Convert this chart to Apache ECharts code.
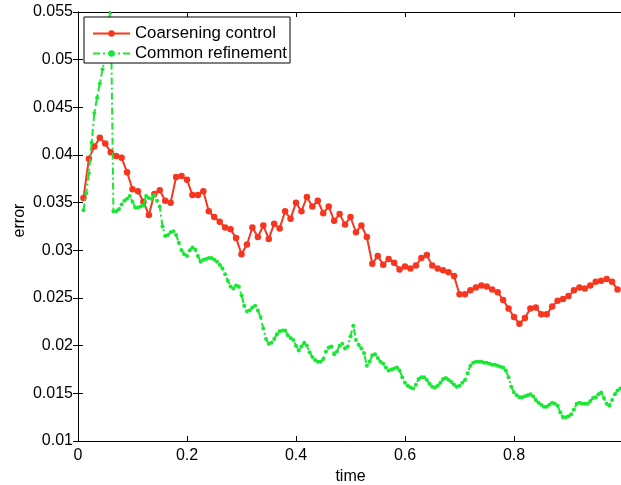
<!DOCTYPE html>
<html>
<head>
<meta charset="utf-8">
<script src="https://cdn.jsdelivr.net/npm/echarts@6/dist/echarts.min.js"></script>
<style>
html, body { margin: 0; padding: 0; background: #fff; }
#chart { width: 621px; height: 485px; }
</style>
</head>
<body>
<div id="chart"></div>
<script>
// sample times (uniform time steps of the two runs)
const coarseStart = 0.01
const coarseStep = 0.01
const commonStart = 0.01
const commonStep = 0.005

// error of the coarsening control run, t = 0.01 .. 0.99
const coarseError = [
  0.0355, 0.0396, 0.0409, 0.0418, 0.0412, 0.0403, 0.0399, 0.0397, 0.0382, 0.0364,
  0.0362, 0.0351, 0.0337, 0.0359, 0.0363, 0.0352, 0.0350, 0.0377, 0.0378, 0.0374,
  0.0358, 0.0358, 0.0362, 0.0341, 0.0335, 0.0330, 0.0324, 0.0322, 0.0313, 0.0296,
  0.0306, 0.0324, 0.0314, 0.0326, 0.0312, 0.0328, 0.0323, 0.0341, 0.0333, 0.0350,
  0.0341, 0.0356, 0.0346, 0.0352, 0.0339, 0.0346, 0.0331, 0.0338, 0.0327, 0.0335,
  0.0319, 0.0326, 0.0314, 0.0286, 0.0294, 0.0285, 0.0291, 0.0287, 0.0280, 0.0283,
  0.0281, 0.0284, 0.0292, 0.0295, 0.0284, 0.0281, 0.0279, 0.0277, 0.0273, 0.0254,
  0.0254, 0.0258, 0.0261, 0.0263, 0.0262, 0.0259, 0.0256, 0.0248, 0.0239, 0.0230,
  0.0223, 0.0229, 0.0239, 0.0240, 0.0233, 0.0233, 0.0241, 0.0247, 0.0249, 0.0252,
  0.0258, 0.0261, 0.0260, 0.0263, 0.0267, 0.0268, 0.0270, 0.0267, 0.0259
]

// error of the common refinement run, t = 0.01 .. 0.995
const commonError = [
  0.0342, 0.0360, 0.0381, 0.0413, 0.0444, 0.0460, 0.0475, 0.0490, 0.0502, 0.0525,
  0.0560, 0.0341, 0.0341, 0.0343, 0.0348, 0.0352, 0.0354, 0.0357, 0.0351, 0.0345,
  0.0345, 0.0346, 0.0347, 0.0357, 0.0355, 0.0354, 0.0358, 0.0352,
  0.0346, 0.0325, 0.0315, 0.0316, 0.0319, 0.0320, 0.0316, 0.0308, 0.0300, 0.0296,
  0.0294, 0.0300, 0.0303, 0.0301, 0.0294, 0.0288, 0.0290, 0.0291, 0.0292, 0.0292,
  0.0290, 0.0288, 0.0285, 0.0281, 0.0275, 0.0268, 0.0262, 0.0260, 0.0263, 0.0262,
  0.0253, 0.0242, 0.0236, 0.0237, 0.0240, 0.0242, 0.0237, 0.0230, 0.0218, 0.0207,
  0.0202, 0.0203, 0.0207, 0.0212, 0.0215, 0.0216, 0.0216, 0.0211, 0.0208, 0.0206,
  0.0200, 0.0195, 0.0199, 0.0203, 0.0200, 0.0193, 0.0188, 0.0185, 0.0183, 0.0183,
  0.0186, 0.0194, 0.0198, 0.0199, 0.0191, 0.0194, 0.0200, 0.0202, 0.0197, 0.0199,
  0.0210, 0.0221, 0.0206, 0.0201, 0.0197, 0.0192, 0.0179, 0.0183, 0.0190, 0.0191,
  0.0187, 0.0183, 0.0181, 0.0177, 0.0174, 0.0175, 0.0176, 0.0177, 0.0174, 0.0167,
  0.0161, 0.0158, 0.0156, 0.0155, 0.0159, 0.0165, 0.0167, 0.0167, 0.0164, 0.0160,
  0.0157, 0.0156, 0.0158, 0.0161, 0.0165, 0.0166, 0.0164, 0.0162, 0.0159, 0.0157,
  0.0158, 0.0161, 0.0164, 0.0171, 0.0179, 0.0182, 0.0183, 0.0183, 0.0183, 0.0182,
  0.0182, 0.0181, 0.0180, 0.0180, 0.0179, 0.0178, 0.0177, 0.0174, 0.0167, 0.0157,
  0.0151, 0.0148, 0.0146, 0.0146, 0.0147, 0.0148, 0.0149, 0.0147, 0.0143, 0.0140,
  0.0138, 0.0136, 0.0136, 0.0138, 0.0140, 0.0139, 0.0137, 0.0130, 0.0125, 0.0125,
  0.0126, 0.0128, 0.0133, 0.0139, 0.0140, 0.0139, 0.0139, 0.0139, 0.0142, 0.0145,
  0.0146, 0.0149, 0.0151, 0.0145, 0.0139, 0.0137, 0.0143, 0.0149, 0.0153, 0.0155
]

const seriesNames = ['Coarsening control', 'Common refinement']
const xTicks = { min: 0, max: 1, interval: 0.2 }
const yTicks = { min: 0.01, max: 0.055, interval: 0.005 }

function pairs (start, step, values) {
  return values.map((v, i) => [+(start + i * step).toFixed(3), v])
}

const font = 'Liberation Sans, Arial, Helvetica, sans-serif'
const axisLine = { show: true, lineStyle: { color: '#000', width: 1 } }
const axisTick = { show: true, inside: true, length: 5, lineStyle: { color: '#000', width: 1 } }

const chart = echarts.init(document.getElementById('chart'), null, { renderer: 'canvas' })
chart.setOption({
  animation: false,
  backgroundColor: '#fff',
  textStyle: { fontFamily: font },
  grid: { left: 78, top: 12, right: -2, bottom: 44, show: false, containLabel: false, outerBoundsMode: 'none' },
  legend: {
    orient: 'vertical',
    left: 84,
    top: 17,
    padding: [8, 3, 1, 8],
    itemGap: 3,
    itemWidth: 37,
    itemHeight: 8,
    backgroundColor: '#fff',
    borderColor: '#000',
    borderWidth: 1,
    borderRadius: 0,
    textStyle: { color: '#000', fontSize: 16.8, fontFamily: font },
    data: seriesNames
  },
  xAxis: [{
    type: 'value',
    min: xTicks.min,
    max: xTicks.max,
    interval: xTicks.interval,
    name: 'time',
    nameLocation: 'middle',
    nameGap: 27,
    nameTextStyle: { color: '#000', fontSize: 16, fontFamily: font },
    axisLine: axisLine,
    axisTick: axisTick,
    splitLine: { show: false },
    axisLabel: {
      color: '#000', fontSize: 16, fontFamily: font, margin: 7, showMaxLabel: false,
      formatter: v => String(+v.toFixed(2))
    }
  }, {
    type: 'value',
    position: 'top',
    min: xTicks.min,
    max: xTicks.max,
    interval: xTicks.interval,
    axisLine: axisLine,
    axisTick: axisTick,
    splitLine: { show: false },
    axisLabel: { show: false }
  }],
  yAxis: [{
    type: 'value',
    min: yTicks.min,
    max: yTicks.max,
    interval: yTicks.interval,
    name: 'error',
    nameLocation: 'middle',
    nameGap: 50,
    nameMoveOverlap: false,
    nameTextStyle: { color: '#000', fontSize: 16, fontFamily: font, padding: [0, 0, 0, 12] },
    axisLine: axisLine,
    axisTick: axisTick,
    splitLine: { show: false },
    axisLabel: {
      color: '#000', fontSize: 16, fontFamily: font, margin: 5,
      formatter: v => String(+v.toFixed(3))
    }
  }, {
    type: 'value',
    position: 'right',
    min: yTicks.min,
    max: yTicks.max,
    interval: yTicks.interval,
    axisLine: axisLine,
    axisTick: axisTick,
    splitLine: { show: false },
    axisLabel: { show: false }
  }],
  series: [{
    name: seriesNames[0],
    type: 'line',
    data: pairs(coarseStart, coarseStep, coarseError),
    symbol: 'circle',
    symbolSize: 6.5,
    showSymbol: true,
    showAllSymbol: true,
    color: '#f7361f',
    lineStyle: { color: '#f7361f', width: 2 },
    itemStyle: { color: '#f7361f' },
    z: 2
  }, {
    name: seriesNames[1],
    type: 'line',
    data: pairs(commonStart, commonStep, commonError),
    symbol: 'circle',
    symbolSize: 4,
    showSymbol: true,
    showAllSymbol: true,
    color: '#19e833',
    lineStyle: { color: '#19e833', width: 2, type: [7, 3, 2, 3] },
    itemStyle: { color: '#19e833' },
    z: 3
  }]
})
</script>
</body>
</html>
